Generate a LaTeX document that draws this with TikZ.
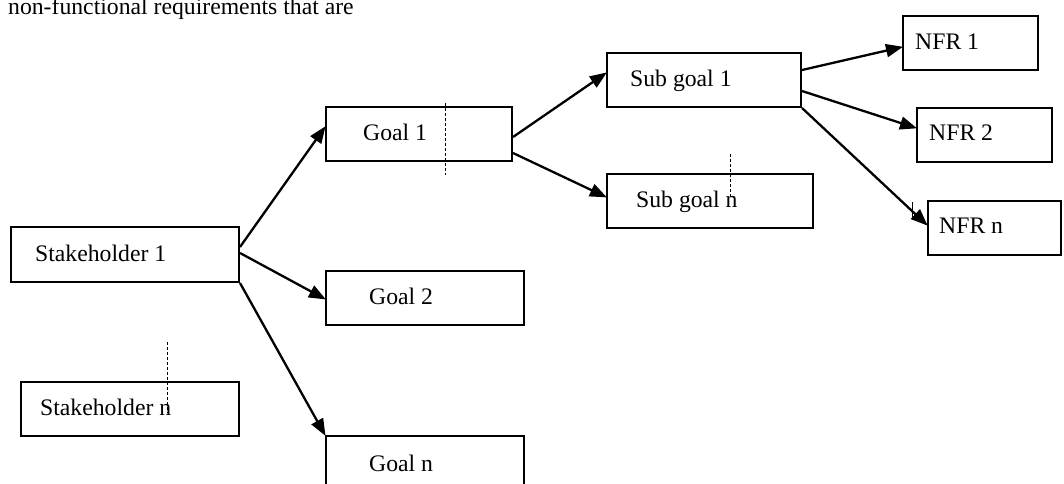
\documentclass[tikz,border=0pt]{standalone}
\usepackage{fontspec}
\setmainfont{Liberation Serif}
\usetikzlibrary{arrows.meta,calc}
\begin{document}
\begin{tikzpicture}[x=1pt,y=-1pt,
  box/.style={draw, line width=2pt, inner sep=0pt, minimum height=54pt},
  lbl/.style={anchor=base west, inner sep=0pt, font=\fontsize{23.7}{28}\selectfont},
  conn/.style={line width=2.3pt, -{Triangle[length=17pt,width=13pt]}, shorten >=-1pt},
  guide/.style={line width=0.8pt, dash pattern=on 3pt off 2pt}
]
\useasboundingbox (0,0) rectangle (1064,483);
% top text
\node[lbl] (top) at (8,14) {non-functional requirements that are};
% boxes
\node[box, minimum width=228pt, minimum height=55pt] (s1) at (125,254.5) {};
\node[box, minimum width=218pt] (sn) at (130,409) {};
\node[box, minimum width=186pt] (g1) at (419,134) {};
\node[box, minimum width=198pt] (g2) at (425,298) {};
\node[box, minimum width=198pt] (gn) at (425,463) {};
\node[box, minimum width=194pt] (sg1) at (704,80) {};
\node[box, minimum width=206pt] (sgn) at (710,200.5) {};
\node[box, minimum width=135pt] (nfr1) at (970.5,43) {};
\node[box, minimum width=135pt] (nfr2) at (984.5,134.5) {};
\node[box, minimum width=133pt] (nfrn) at (994.5,227.5) {};
% labels
\node[lbl] (t1) at (35,261) {Stakeholder 1};
\node[lbl] (t2) at (40,415) {Stakeholder n};
\node[lbl] (t3) at (363,140) {Goal 1};
\node[lbl] (t4) at (369,304) {Goal 2};
\node[lbl] (t5) at (369,471) {Goal n};
\node[lbl] (t6) at (630,86) {Sub goal 1};
\node[lbl] (t7) at (636,207) {Sub goal n};
\node[lbl] (t8) at (915,49) {NFR 1};
\node[lbl] (t9) at (929,140) {NFR 2};
\node[lbl] (t10) at (939,233) {NFR n};
% connectors
\draw[conn] ($(s1.east)+(0,-7.5)$) -- ($(g1.west)+(0,-7)$);
\draw[conn] ($(s1.east)+(0,-1.5)$) -- ($(g2.west)+(0,1)$);
\draw[conn] (s1.south east) -- (gn.north west);
\draw[conn] ($(g1.east)+(0,3)$) -- ($(sg1.west)+(0,-7)$);
\draw[conn] ($(g1.east)+(0,19)$) -- ($(sgn.west)+(0,-3.5)$);
\draw[conn] ($(sg1.east)+(0,-10)$) -- ($(nfr1.west)+(0,4)$);
\draw[conn] ($(sg1.east)+(0,11)$) -- ($(nfr2.west)+(0,-6.5)$);
\draw[conn] (sg1.south east) -- ($(nfrn.west)+(0,-2.5)$);
% dashed guide lines
\coordinate (d1a) at (445,103); \coordinate (d1b) at (445,175);
\draw[guide] (d1a) -- (d1b);
\coordinate (d2a) at (730,154); \coordinate (d2b) at (730,197);
\draw[guide] (d2a) -- (d2b);
\coordinate (d3a) at (167,342); \coordinate (d3b) at (167,413);
\draw[guide] (d3a) -- (d3b);
\coordinate (d4a) at (912,202); \coordinate (d4b) at (912,218);
\draw[line width=0.8pt] (d4a) -- (d4b);
\end{tikzpicture}
\end{document}
